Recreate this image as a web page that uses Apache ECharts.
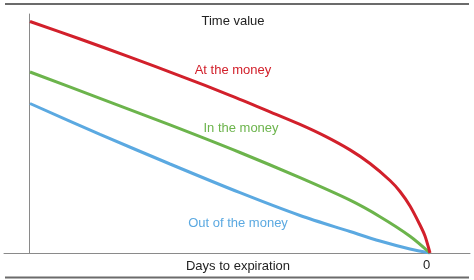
<!DOCTYPE html>
<html><head><meta charset="utf-8">
<script src="https://cdn.jsdelivr.net/npm/echarts@6/dist/echarts.min.js"></script>
<style>html,body{margin:0;padding:0;background:#fff}#c{width:474px;height:280px}</style>
</head><body><div id="c"></div>
<script>
// days remaining until expiration
var atDays = [100, 87.5, 75, 62.5, 50, 40, 32.5, 26.25, 20, 15, 10, 7.5, 5, 2.5, 1.25, 0];
var atValues = [231.5, 214, 195.9, 177.2, 157.7, 141.2, 128.6, 116.85, 103.1, 89.5, 72.5, 61.5, 47, 28, 17, 0];
var inDays = [100, 82.5, 65, 47.5, 32.5, 20, 12.5, 5, 0];
var inValues = [181, 154.7, 128.1, 100.5, 75.3, 52.8, 36.3, 16.8, 0];
var outDays = [100, 82.5, 65, 47.5, 32.5, 20, 12.5, 5, 0];
var outValues = [149.5, 118.7, 89, 60.3, 37.5, 21.5, 12, 4, 0];
var xTicks = [0];
var seriesNames = ['At the money', 'In the money', 'Out of the money'];
var colors = ['#d2202b', '#6cb44c', '#5ba9e1'];

function pairs(xs, ys) { return xs.map(function (x, i) { return [x, ys[i]]; }); }

var font = '"Liberation Sans", Arial, sans-serif';
var chart = echarts.init(document.getElementById('c'), null, { renderer: 'canvas' });
chart.setOption({
  animation: false,
  grid: { left: 4, right: 4, top: 14, bottom: 27 },
  xAxis: {
    type: 'value', inverse: true, min: -10, max: 106.5,
    axisLine: { show: true, onZero: false, lineStyle: { color: '#8a8a8a', width: 1 } },
    axisTick: { show: false },
    splitLine: { show: false },
    axisLabel: { customValues: xTicks, color: '#222', fontSize: 13, fontFamily: font, margin: 6, padding: [0, 7, 0, 0] }
  },
  yAxis: {
    type: 'value', min: 0, max: 239, offset: -25,
    axisLine: { show: true, onZero: false, lineStyle: { color: '#8a8a8a', width: 1 } },
    axisTick: { show: false }, axisLabel: { show: false }, splitLine: { show: false }
  },
  series: [
    { name: seriesNames[0], type: 'line', data: pairs(atDays, atValues) },
    { name: seriesNames[1], type: 'line', data: pairs(inDays, inValues) },
    { name: seriesNames[2], type: 'line', data: pairs(outDays, outValues) }
  ].map(function (s, i) {
    s.smooth = 0.3; s.showSymbol = false; s.symbol = 'none';
    s.lineStyle = { color: colors[i], width: 3 };
    s.itemStyle = { color: colors[i] };
    s.z = 3 - i;
    return s;
  }),
  graphic: [
    { type: 'line', shape: { x1: 5, y1: 4, x2: 469, y2: 4 }, style: { stroke: '#6b6b6b', lineWidth: 2 } },
    { type: 'line', shape: { x1: 5, y1: 277.5, x2: 469, y2: 277.5 }, style: { stroke: '#6b6b6b', lineWidth: 2 } },
    { type: 'text', x: 233, y: 21, style: { text: 'Time value', fill: '#222', font: '13px ' + font, textAlign: 'center', textVerticalAlign: 'middle' } },
    { type: 'text', x: 238, y: 266, style: { text: 'Days to expiration', fill: '#222', font: '13px ' + font, textAlign: 'center', textVerticalAlign: 'middle' } },
    { type: 'text', x: 233, y: 70, style: { text: seriesNames[0], fill: colors[0], font: '13px ' + font, textAlign: 'center', textVerticalAlign: 'middle' } },
    { type: 'text', x: 241, y: 128, style: { text: seriesNames[1], fill: colors[1], font: '13px ' + font, textAlign: 'center', textVerticalAlign: 'middle' } },
    { type: 'text', x: 238, y: 223, style: { text: seriesNames[2], fill: colors[2], font: '13px ' + font, textAlign: 'center', textVerticalAlign: 'middle' } }
  ]
});
</script></body></html>
